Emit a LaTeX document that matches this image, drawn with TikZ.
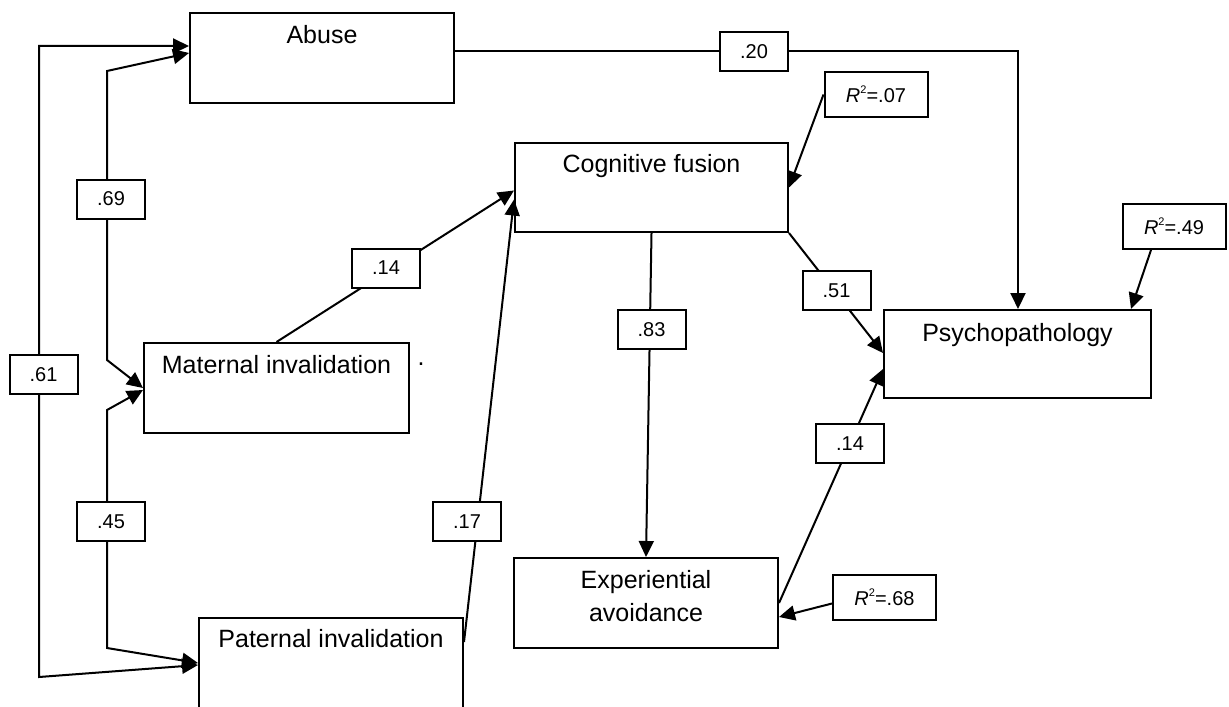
\documentclass[tikz,border=0pt]{standalone}
\usepackage{fontspec}
\setmainfont{Liberation Sans}
\usetikzlibrary{arrows.meta,calc,backgrounds}
\newcommand{\rsq}{\textit{R}\raisebox{0.85ex}{\fontsize{5.5}{5.5}\selectfont 2}}
\begin{document}
\begin{tikzpicture}[x=0.5pt,y=-0.5pt,
  box/.style={draw, line width=1pt, inner sep=0pt, rectangle},
  lab/.style={draw, fill=white, line width=1pt, inner sep=0pt, font=\fontsize{10}{12}\selectfont, minimum width=34pt, minimum height=19.5pt},
  rlab/.style={lab, minimum width=51.5pt, minimum height=22.5pt},
  arr/.style={-{Triangle[length=8pt,width=7.5pt]}, line width=1pt},
  darr/.style={{Triangle[length=8pt,width=7.5pt]}-{Triangle[length=8pt,width=7.5pt]}, line width=1pt},
  txt/.style={font=\fontsize{12.5}{16.5}\selectfont, inner sep=0pt, anchor=north, align=center}
]
\clip (0,0) rectangle (1229,706);

% boxes
\node[box, minimum width=132pt, minimum height=45pt] (abuse) at (322,58) {};
\node[box, minimum width=132.5pt, minimum height=45pt] (mat) at (276.5,388) {};
\node[box, minimum width=132pt, minimum height=45pt] (pat) at (331,663) {};
\node[box, minimum width=136.5pt, minimum height=44.5pt] (cf) at (651.5,187.5) {};
\node[box, minimum width=133.5pt, minimum height=44pt] (psy) at (1017.5,354) {};
\node[box, minimum width=132pt, minimum height=45pt] (ea) at (646,603) {};

% box texts
\node[txt] (abuseT) at ($(abuse.north)+(0,13)$) {Abuse};
\node[txt] (matT) at ($(mat.north)+(0,13)$) {Maternal invalidation};
\node[txt] (patT) at ($(pat.north)+(0,12)$) {Paternal invalidation};
\node[txt] (cfT) at ($(cf.north)+(0,12)$) {Cognitive fusion};
\node[txt] (psyT) at ($(psy.north)+(0,14)$) {Psychopathology};
\node[txt] (eaT) at ($(ea.north)+(0,13)$) {Experiential\\avoidance};
\node[font=\fontsize{12.5}{15}\selectfont, inner sep=0pt, anchor=south] (dot) at (421,366) {.};

% coefficient labels
\node[lab] (l69) at (111,199) {.69};
\node[lab] (l14a) at (386,268) {.14};
\node[lab] (l61) at (43.5,374.5) {.61};
\node[lab] (l45) at (111,521.5) {.45};
\node[lab] (l17) at (467,521.5) {.17};
\node[lab] (l20) at (754,51.5) {.20};
\node[lab] (l51) at (836.5,290.5) {.51};
\node[lab] (l83) at (651.5,329.5) {.83};
\node[lab] (l14b) at (850,443.5) {.14};
\node[rlab] (r07) at (876,94.5) {\rsq=.07};
\node[rlab] (r49) at (1174,226.5) {\rsq=.49};
\node[rlab] (r68) at (884.5,597.5) {\rsq=.68};

% bend points
\coordinate (k20) at (1018,51);
\coordinate (k69t) at (107,71);
\coordinate (k69b) at (107,360);
\coordinate (k45t) at (107,410);
\coordinate (k45b) at (107,648);
\coordinate (k61t) at (39,46);
\coordinate (k61b) at (39,677);

\begin{pgfonlayer}{background}
\draw[arr] (abuse.east |- k20) -- (k20) -- (k20 |- psy.north);
\draw[arr] (r07.west) -- (cf.east);
\draw[arr] ($(r49.south)+(-23,0)$) -- ($(psy.north east)+(-21,0)$);
\draw[arr] (cf.south east) -- ($(psy.west)+(0,-1)$);
\draw[arr] (ea.east) -- ($(psy.west)+(0,15)$);
\draw[arr] ($(r68.west)+(0,6)$) -- ($(ea.east)+(0,14)$);
\draw[arr] (cf.south) -- (ea.north);
\draw[arr] (mat.north) -- ($(cf.west)+(0,3)$);
\draw[arr] ($(pat.north east)+(0,25)$) -- ($(cf.west)+(0,12)$);
\draw[darr] (mat.west) -- (k69b) -- (k69t) -- ($(abuse.west)+(0,-5)$);
\draw[darr] ($(mat.west)+(0,2)$) -- (k45t) -- (k45b) -- (pat.west);
\draw[darr] ($(abuse.west)+(0,-12)$) -- (k61t) -- (k61b) -- ($(pat.west)+(0,2)$);
\end{pgfonlayer}
\end{tikzpicture}
\end{document}
